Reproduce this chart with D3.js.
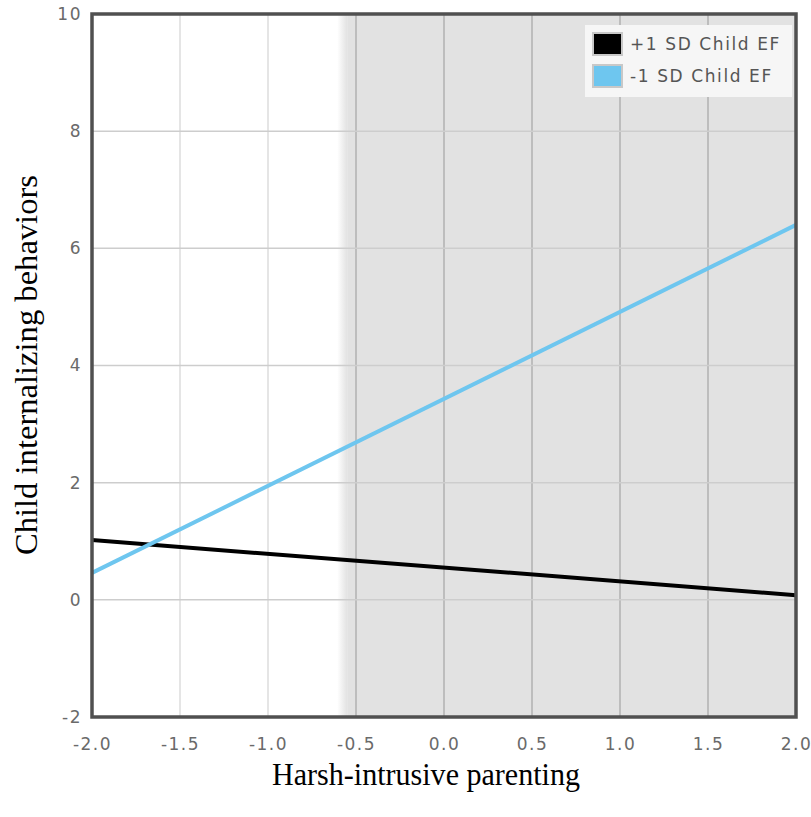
<!DOCTYPE html>
<html>
<head>
<meta charset="utf-8">
<script src="https://cdn.jsdelivr.net/npm/d3@7"></script>
<style>
  body { margin: 0; background: #fff; }
  .tick text { font-family: "DejaVu Sans", Verdana, sans-serif; font-size: 17px; letter-spacing: 1.5px; fill: #6a6a6a; }
  .title { font-family: "Liberation Serif", "Times New Roman", serif; font-size: 31px; fill: #000; }
  .legend text { font-family: "DejaVu Sans", Verdana, sans-serif; font-size: 17px; letter-spacing: 1.6px; fill: #555; }
</style>
</head>
<body>
<div id="chart"></div>
<script>
// data
var xTicks = [-2.0, -1.5, -1.0, -0.5, 0.0, 0.5, 1.0, 1.5, 2.0];
var yTicks = [-2, 0, 2, 4, 6, 8, 10];
var regionStart = -0.55; // shaded region of significance
var seriesNames = ['+1 SD Child EF', '-1 SD Child EF'];
var seriesColors = ['#000000', '#6ec6ef'];
var highEF = [[-2.0, 1.02], [2.0, 0.08]];
var lowEF = [[-2.0, 0.46], [2.0, 6.40]];

var width = 811,
  height = 817;

var margin = {
  top: 14,
  right: 15,
  bottom: 100,
  left: 92
};

var svg = d3.select('#chart')
  .append('svg')
  .attr('width', width)
  .attr('height', height);

var w = width - margin.left - margin.right,
  h = height - margin.top - margin.bottom;

var g = svg.append('g')
  .attr('transform', 'translate(' + margin.left + ',' + margin.top + ')');

var xScale = d3.scaleLinear().domain([-2, 2]).range([0, w]);
var yScale = d3.scaleLinear().domain([-2, 10]).range([h, 0]);

// shaded region, with a soft left edge
var shadeGrad = svg.append('defs').append('linearGradient')
  .attr('id', 'fade')
  .attr('x1', '0%').attr('x2', '100%');
shadeGrad.append('stop').attr('offset', '0%').attr('stop-color', '#ffffff');
shadeGrad.append('stop').attr('offset', '100%').attr('stop-color', '#e2e2e2');

g.append('rect')
  .attr('x', xScale(regionStart) - 10)
  .attr('y', 0)
  .attr('width', 10)
  .attr('height', h)
  .attr('fill', 'url(#fade)');

g.append('rect')
  .attr('x', xScale(regionStart))
  .attr('y', 0)
  .attr('width', xScale(2) - xScale(regionStart))
  .attr('height', h)
  .attr('fill', '#e2e2e2');

// grid lines
g.selectAll('.vgrid')
  .data(xTicks.slice(1, -1))
  .enter()
  .append('line')
  .attr('x1', function(d) { return xScale(d); })
  .attr('x2', function(d) { return xScale(d); })
  .attr('y1', 0)
  .attr('y2', h)
  .attr('stroke', function(d) { return d > regionStart ? '#b0b0b0' : '#dcdcdc'; })
  .attr('stroke-width', 1.5);

g.selectAll('.hgrid')
  .data(yTicks.slice(1, -1))
  .enter()
  .append('line')
  .attr('x1', 0)
  .attr('x2', w)
  .attr('y1', function(d) { return yScale(d); })
  .attr('y2', function(d) { return yScale(d); })
  .attr('stroke', '#cdcdcd')
  .attr('stroke-width', 1.5);

// lines
var line = d3.line()
  .x(function(d) { return xScale(d[0]); })
  .y(function(d) { return yScale(d[1]); });

[highEF, lowEF].forEach(function(s, i) {
  g.append('path')
    .datum(s)
    .attr('d', line)
    .attr('fill', 'none')
    .attr('stroke', seriesColors[i])
    .attr('stroke-width', 4);
});

// axes, plain hyphen for the minus sign
var xAxis = g.append('g')
  .attr('transform', 'translate(0,' + h + ')')
  .call(d3.axisBottom(xScale).tickValues(xTicks)
    .tickFormat(function(d) { return d.toFixed(1); })
    .tickSize(0).tickPadding(21));
xAxis.select('.domain').remove();

var yAxis = g.append('g')
  .call(d3.axisLeft(yScale).tickValues(yTicks)
    .tickFormat(function(d) { return String(d); })
    .tickSize(0).tickPadding(10));
yAxis.select('.domain').remove();

// frame
g.append('rect')
  .attr('x', 0)
  .attr('y', 0)
  .attr('width', w)
  .attr('height', h)
  .attr('fill', 'none')
  .attr('stroke', '#505050')
  .attr('stroke-width', 3.5);

// axis titles
svg.append('text')
  .attr('class', 'title')
  .attr('x', 426)
  .attr('y', 785)
  .attr('text-anchor', 'middle')
  .attr('textLength', 308)
  .attr('lengthAdjust', 'spacingAndGlyphs')
  .text('Harsh-intrusive parenting');

svg.append('text')
  .attr('class', 'title')
  .attr('transform', 'translate(37,365) rotate(-90)')
  .attr('text-anchor', 'middle')
  .attr('textLength', 380)
  .attr('lengthAdjust', 'spacingAndGlyphs')
  .text('Child internalizing behaviors');

// legend
var legend = g.append('g').attr('class', 'legend')
  .attr('transform', 'translate(' + (585 - margin.left) + ',' + (25 - margin.top) + ')');

legend.append('rect')
  .attr('width', 207)
  .attr('height', 72)
  .attr('fill', '#f6f6f6');

var item = legend.selectAll('.item')
  .data(seriesNames)
  .enter()
  .append('g')
  .attr('transform', function(d, i) { return 'translate(8,' + (8 + i * 32) + ')'; });

item.append('rect')
  .attr('width', 29)
  .attr('height', 22)
  .attr('fill', function(d, i) { return seriesColors[i]; })
  .attr('stroke', '#c8c8c8')
  .attr('stroke-width', 2);

item.append('text')
  .attr('x', 37)
  .attr('y', 17)
  .text(function(d) { return d; });
</script>
</body>
</html>
